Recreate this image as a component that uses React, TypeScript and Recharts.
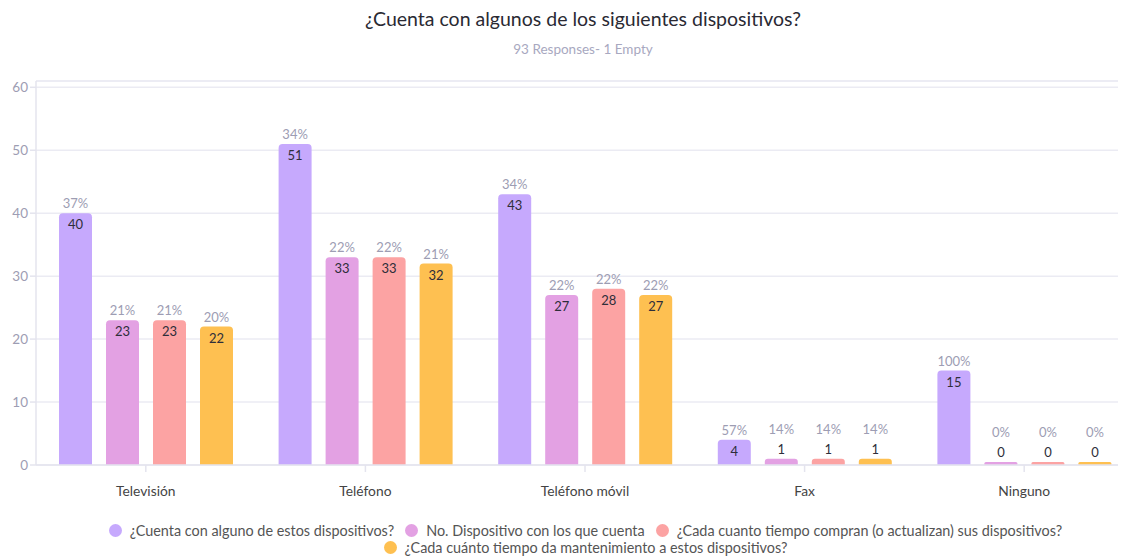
import React from "react";
import { BarChart, Bar, XAxis, YAxis, CartesianGrid, Legend, LabelList, ReferenceLine } from "recharts";

const categories = ["Televisión", "Teléfono", "Teléfono móvil", "Fax", "Ninguno"];
const cuenta = [40, 51, 43, 4, 15];
const noDisp = [23, 33, 27, 1, 0];
const compran = [23, 33, 28, 1, 0];
const mant = [22, 32, 27, 1, 0];
const cuentaPct = ["37%", "34%", "34%", "57%", "100%"];
const noDispPct = ["21%", "22%", "22%", "14%", "0%"];
const compranPct = ["21%", "22%", "22%", "14%", "0%"];
const mantPct = ["20%", "21%", "22%", "14%", "0%"];
const yTicks = [0, 10, 20, 30, 40, 50, 60];

const seriesNames = [
  "¿Cuenta con alguno de estos dispositivos?",
  "No. Dispositivo con los que cuenta",
  "¿Cada cuanto tiempo compran (o actualizan) sus dispositivos?",
  "¿Cada cuánto tiempo da mantenimiento a estos dispositivos?",
];
const colors = ["#c6a9fd", "#e3a1e3", "#fca3a3", "#fec051"];
const pcts = [cuentaPct, noDispPct, compranPct, mantPct];
const keys = ["cuenta", "noDisp", "compran", "mant"];

const data = categories.map((name, i) => ({
  name,
  cuenta: cuenta[i],
  noDisp: noDisp[i],
  compran: compran[i],
  mant: mant[i],
}));

const FONT = "Lato, 'Open Sans', sans-serif";

const makeLabel = (s: number) => (props: any) => {
  const { x, y, width, height, value, index } = props;
  const cx = x + width / 2;
  const inside = height >= 22;
  const valueY = inside ? y + 11 : y - 10;
  const pctY = inside ? y - 10 : y - 30;
  return (
    <g>
      <text x={cx} y={valueY} textAnchor="middle" dominantBaseline="central" fontSize={13} fill="#2e2e3a" fontFamily={FONT}>
        {value}
      </text>
      <text x={cx} y={pctY} textAnchor="middle" dominantBaseline="central" fontSize={13} fill="#9d9db3" fontFamily={FONT}>
        {pcts[s][index]}
      </text>
    </g>
  );
};

const LegendContent = () => (
  <div
    style={{
      marginLeft: 68,
      width: 1030,
      display: "flex",
      flexWrap: "wrap",
      justifyContent: "center",
      fontFamily: FONT,
      fontSize: 14.4,
      color: "#555",
      lineHeight: "17px",
      height: 34,
    }}
  >
    {seriesNames.map((n, i) => (
      <div key={n} style={{ display: "flex", alignItems: "center", marginRight: 11 }}>
        <span style={{ width: 13, height: 13, borderRadius: "50%", background: colors[i], marginRight: 8, display: "inline-block" }} />
        <span>{n}</span>
      </div>
    ))}
  </div>
);

export default function App() {
  return (
    <div style={{ position: "relative", width: 1118, height: 551, overflow: "hidden", background: "#fff" }}>
      <div style={{ position: "absolute", left: 0, top: 0, width: 1150, textAlign: "center", fontFamily: FONT }}>
        <div style={{ fontSize: 19.5, color: "#2a2a33", marginTop: 0, lineHeight: "22px" }}>
          ¿Cuenta con algunos de los siguientes dispositivos?
        </div>
        <div style={{ fontSize: 13.5, color: "#a8a8c0", marginTop: 10, lineHeight: "18px" }}>93 Responses- 1 Empty</div>
      </div>
      <div style={{ position: "absolute", left: 0, top: 0 }}>
        <BarChart
          width={1130}
          height={551}
          data={data}
          margin={{ top: 73, right: 4, left: 0, bottom: 3 }}
          barGap={14}
        >
          <CartesianGrid vertical={false} stroke="#ebebf3" strokeWidth={1.5} />
          <ReferenceLine y={61} stroke="#ebebf3" strokeWidth={1.5} />
          <XAxis
            dataKey="name"
            stroke="#e4e4ee"
            strokeWidth={1.5}
            tickSize={7}
            tickMargin={14}
            height={57}
            tick={{ fill: "#444", fontSize: 13.8, fontFamily: FONT }}
            tickLine={{ stroke: "#e4e4ee" }}
          />
          <YAxis
            domain={[0, 61]}
            ticks={yTicks}
            width={28}
            stroke="#e4e4ee"
            strokeWidth={1.5}
            tickSize={6}
            tickMargin={2}
            tick={{ fill: "#9d9db3", fontSize: 13.5, fontFamily: FONT }}
            tickLine={{ stroke: "#e4e4ee" }}
            allowDataOverflow
          />
          <Legend verticalAlign="bottom" content={<LegendContent />} />
          {keys.map((k, s) => (
            <Bar
              key={k}
              dataKey={k}
              name={seriesNames[s]}
              fill={colors[s]}
              barSize={33}
              radius={[4, 4, 0, 0]}
              minPointSize={3}
              isAnimationActive={false}
            >
              <LabelList dataKey={k} content={makeLabel(s)} />
            </Bar>
          ))}
        </BarChart>
      </div>
    </div>
  );
}
